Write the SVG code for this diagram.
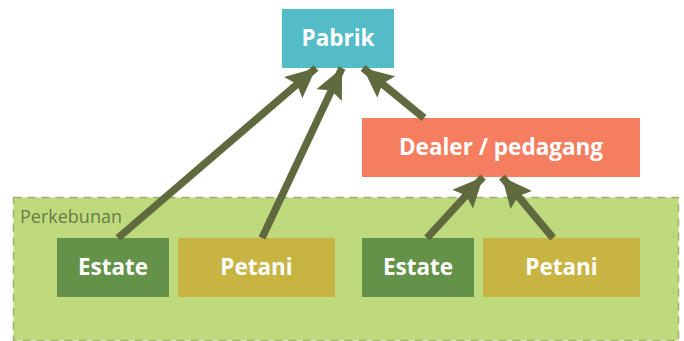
<svg xmlns="http://www.w3.org/2000/svg" width="684" height="341" viewBox="0 0 684 341">
<style>
.lbl{font-family:"Open Sans","Liberation Sans",sans-serif;font-weight:bold;font-size:22.5px;fill:#ffffff;text-anchor:middle}
.conn{stroke:#606A3F;stroke-width:7.5;fill:none}
</style>
<defs>
<marker id="ah" markerUnits="userSpaceOnUse" markerWidth="32" markerHeight="30" refX="30" refY="14" orient="auto">
<path d="M0,0 L30,14 L0,28 L5,14 Z" fill="#606A3F"/>
</marker>
</defs>
<rect width="684" height="341" fill="#ffffff"/>
<g id="perkebunan">
<rect x="13.5" y="197.5" width="665" height="143" fill="#BFDA7C" stroke="#9EAF6E" stroke-width="1.5" stroke-dasharray="8,6"/>
<text x="20" y="223" style="font-family:'Open Sans','Liberation Sans',sans-serif;font-size:18px;fill:#6A7A4A">Perkebunan</text>
</g>
<g id="pabrik">
<rect x="282" y="9" width="112" height="59" fill="#53BCC7"/>
<text class="lbl" x="338" y="46">Pabrik</text>
</g>
<g id="dealer">
<rect x="362" y="118" width="278" height="59" fill="#F47E5F"/>
<text class="lbl" x="501" y="155">Dealer / pedagang</text>
</g>
<g id="estate1">
<rect x="57" y="238" width="112" height="59" fill="#659249"/>
<text class="lbl" x="113" y="275">Estate</text>
</g>
<g id="petani1">
<rect x="178" y="238" width="157" height="59" fill="#C8B443"/>
<text class="lbl" x="256.5" y="275">Petani</text>
</g>
<g id="estate2">
<rect x="362" y="238" width="112" height="59" fill="#659249"/>
<text class="lbl" x="418" y="275">Estate</text>
</g>
<g id="petani2">
<rect x="483" y="238" width="157" height="59" fill="#C8B443"/>
<text class="lbl" x="561.5" y="275">Petani</text>
</g>
<g id="connectors">
<line class="conn" x1="118" y1="238" x2="316" y2="68" marker-end="url(#ah)"/>
<line class="conn" x1="262" y1="238" x2="342" y2="68" marker-end="url(#ah)"/>
<line class="conn" x1="424" y1="118" x2="363" y2="68" marker-end="url(#ah)"/>
<line class="conn" x1="427" y1="238" x2="483" y2="177" marker-end="url(#ah)"/>
<line class="conn" x1="553" y1="238" x2="502" y2="177" marker-end="url(#ah)"/>
</g>
</svg>
